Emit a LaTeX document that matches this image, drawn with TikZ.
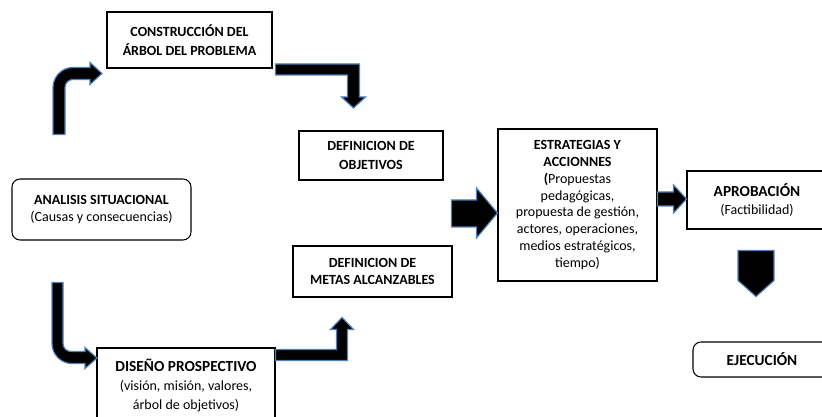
\documentclass[tikz,border=0pt]{standalone}
\usepackage{fontspec}
\setmainfont{Carlito}
\usepackage{xcolor}
\usetikzlibrary{calc}
\definecolor{arrowedge}{RGB}{79,129,189}
\newlength\pxu
\setlength\pxu{0.75pt}
\tikzset{
	box/.style={draw=black, line width=0.8pt, align=center, inner sep=2pt,
			font=\fontsize{10.5}{13}\selectfont},
	headbox/.style={box, font=\fontsize{10.5}{14}\selectfont\bfseries},
	roundbox/.style={box, rounded corners=6pt},
	fatarrow/.style={fill=black, draw=arrowedge, line width=0.9pt, line join=miter}
}

\begin{document}
\begin{tikzpicture}[x=0.75pt, y=-0.75pt]
			\useasboundingbox (0,0) rectangle (822,417);
			\fill[white] (0,0) rectangle (822,417);
			\clip (0,0) rectangle (822,417);

			\node[headbox, minimum width=165\pxu, minimum height=56\pxu] (arbol) at (189.5,40) {CONSTRUCCIÓN DEL\\ÁRBOL DEL PROBLEMA};
			\node[headbox, minimum width=144\pxu, minimum height=49\pxu] (objet) at (371,155.5) {DEFINICION DE\\OBJETIVOS};
			\node[roundbox, minimum width=179\pxu, minimum height=61\pxu] (analisis) at (101.5,209.5) {\textbf{ANALISIS SITUACIONAL}\\(Causas y consecuencias)};
			\node[headbox, minimum width=159\pxu, minimum height=51\pxu, font=\fontsize{10.5}{12.5}\selectfont\bfseries] (metas) at (372.5,271.5) {DEFINICION DE\\METAS ALCANZABLES};
			\node[box, minimum width=178\pxu, minimum height=75\pxu, font=\fontsize{10.5}{14}\selectfont] (diseno) at (186,385.5) {{\fontsize{11.5}{14}\selectfont\bfseries DISEÑO PROSPECTIVO}\\(visión, misión, valores,\\árbol de objetivos)};
			\node[box, minimum width=159\pxu, minimum height=152\pxu, font=\fontsize{10.5}{12.6}\selectfont] (estrat) at (577.5,205) {\textbf{ESTRATEGIAS Y}\\\textbf{ACCIONNES}\\\textbf{(}Propuestas\\pedagógicas,\\propuesta de gestión,\\actores, operaciones,\\medios estratégicos,\\tiempo)};
			\node[box, minimum width=140\pxu, minimum height=58\pxu, font=\fontsize{10.5}{14}\selectfont] (aprob) at (757,200) {{\fontsize{11.5}{14}\selectfont\bfseries APROBACIÓN}\\(Factibilidad)};
			\node[roundbox, minimum width=138\pxu, minimum height=35\pxu, font=\fontsize{11.5}{14}\selectfont\bfseries] (ejec) at (762,359.5) {EJECUCIÓN};

			\filldraw[fatarrow] ([shift={(-48.5,-44)}]analisis.north) -- ++(0,-47)
				.. controls +(0,-11) and +(-11,0) .. ++(20,-20) -- ++(17,0) -- ++(0,-5)
				-- ++(12,11) -- ++(-12,11) -- ++(0,-5) -- ++(-17,0)
				.. controls +(-4.4,0) and +(0,-4.4) .. ++(-8,8) -- ++(0,47) -- cycle;
			\filldraw[fatarrow] ([shift={(3,24)}]arbol.east) -- ++(84,0) -- ++(0,33) -- ++(6,0)
				-- ++(-12,11) -- ++(-12,-11) -- ++(6,0) -- ++(0,-22) -- ++(-72,0) -- cycle;
			\filldraw[fatarrow] ([shift={(-49.5,42)}]analisis.south) -- ++(0,61)
				.. controls +(0,11) and +(-11,0) .. ++(20,20) -- ++(13,0) -- ++(0,5)
				-- ++(12,-10.5) -- ++(-12,-10.5) -- ++(0,4) -- ++(-14,0)
				.. controls +(-4.4,0) and +(0,4.4) .. ++(-8,-8) -- ++(0,-61) -- cycle;
			\filldraw[fatarrow] ([shift={(0,2)}]diseno.north east) -- ++(61,0) -- ++(0,-20) -- ++(-6,0)
				-- ++(11.5,-12) -- ++(11.5,12) -- ++(-6,0) -- ++(0,31) -- ++(-72,0) -- cycle;
			\filldraw[fatarrow] ([shift={(-46,-5)}]estrat.west) -- ++(25,0) -- ++(0,-12)
				-- ++(21,25) -- ++(-21,25) -- ++(0,-11) -- ++(-25,0) -- cycle;
			\filldraw[fatarrow] ([shift={(0,-13)}]estrat.east) -- ++(16,0) -- ++(0,-7)
				-- ++(13,14) -- ++(-13,14) -- ++(0,-7) -- ++(-16,0) -- cycle;
			\filldraw[fatarrow] ([shift={(-19,21)}]aprob.south) -- ++(36,0) -- ++(0,30)
				-- ++(-18,16) -- ++(-18,-16) -- cycle;
		\end{tikzpicture}
\end{document}
